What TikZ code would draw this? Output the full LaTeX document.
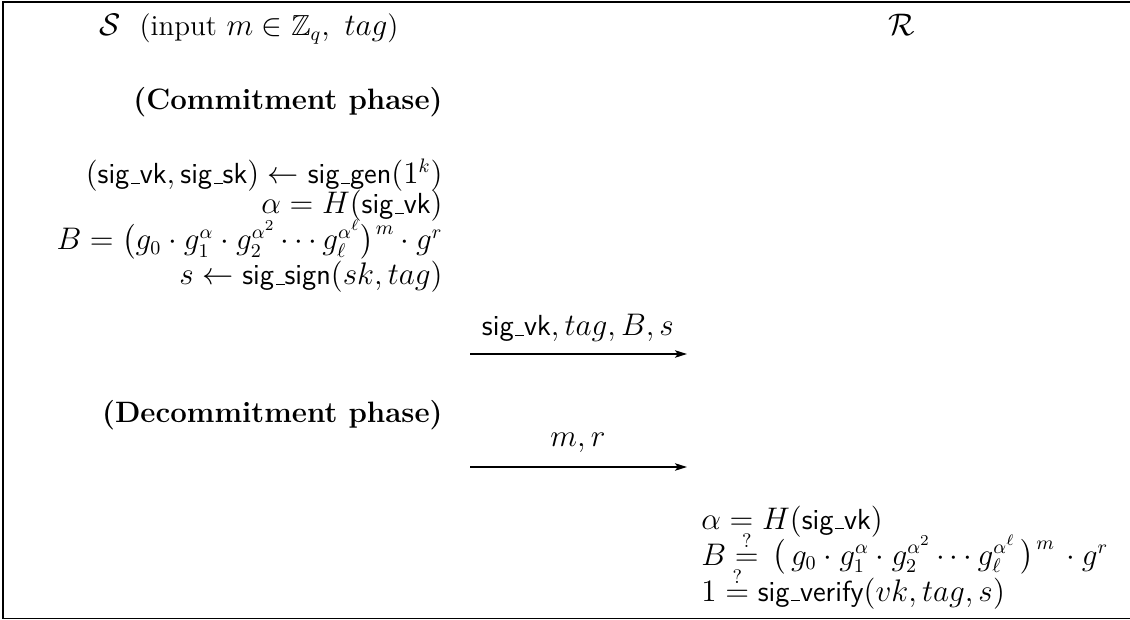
\documentclass[tikz,border=0pt]{standalone}
\usepackage{amssymb}
\usetikzlibrary{arrows.meta}
\newcommand\usc{\kern.06em\vbox{\hrule width.3em height .5pt}}
\newcommand\sig[1]{\textsf{sig\usc #1}}
\newcommand\lpar{\mathopen{\hbox{$\nulldelimiterspace0pt\left(\vcenter to16pt{}\right.$}}}
\newcommand\rparm{\mathclose{\hbox{$\nulldelimiterspace0pt\left.\vcenter to16pt{}\right)$}\kern1pt\raise7pt\hbox{$\scriptstyle m$}}}
\begin{document}
\begin{tikzpicture}[x=0.4615pt,y=-0.4615pt,
  txt/.style={inner sep=0pt,font=\fontsize{13.4}{20}\selectfont},
  phase/.style={inner sep=0pt,font=\fontsize{13.6}{20}\selectfont\bfseries},
  msg/.style={line width=0.85pt,-{Stealth[length=5.5pt,width=3.4pt,inset=1.2pt]}},
  frame/.style={line width=0.9pt}]
\useasboundingbox (0,0) rectangle (1130,620);
% frame (right side runs off the page)
\draw[frame] (1140,2) -- (3,2) -- (3,618.5) -- (1140,618.5);
% headers
\node[txt,anchor=base] (hdrS) at (249,36) {$\mathcal{S}$\ \ (input $m\in\mathbb{Z}_q,\ tag$)};
\node[txt,anchor=base] (hdrR) at (902,36) {$\mathcal{R}$};
% commitment phase
\node[phase,anchor=base east] (commit) at (443,110) {(Commitment phase)};
\node[txt,anchor=base east] (l1) at (443,184) {$(\sig{vk},\sig{sk})\leftarrow\sig{gen}(1^k)$};
\node[txt,anchor=base east] (l2) at (443,214) {$\alpha=H(\sig{vk})$};
\node[txt,anchor=base east] (l3) at (443,250) {$B=\lpar g_0\cdot g_1^{\alpha}\cdot g_2^{\alpha^2}\cdots g_\ell^{\alpha^\ell}\rparm\cdot g^r$};
\node[txt,anchor=base east] (l4) at (443,285) {$s\leftarrow\sig{sign}(sk,tag)$};
\coordinate (a1s) at (470,354);
\coordinate (a1e) at (687,354);
\draw[msg] (a1s) -- (a1e);
\node[txt,anchor=base] (m1) at (578,336) {$\sig{vk},tag,B,s$};
% decommitment phase
\node[phase,anchor=base east] (decommit) at (443,422) {(Decommitment phase)};
\coordinate (a2s) at (470,467);
\coordinate (a2e) at (687,467);
\draw[msg] (a2s) -- (a2e);
\node[txt,anchor=base] (m2) at (578,447) {$m,r$};
% receiver checks
\node[txt,anchor=base west] (r1) at (701,529) {$\alpha=H(\sig{vk})$};
\node[txt,anchor=base west] (r2) at (701,565) {$B\stackrel{?}{=}\,\lpar\,g_0\cdot g_1^{\alpha}\cdot g_2^{\alpha^2}\cdots g_\ell^{\alpha^\ell}\,\rparm\,\cdot g^r$};
\node[txt,anchor=base west] (r3) at (701,601) {$1\stackrel{?}{=}\sig{verify}(vk,tag,s)$};
\end{tikzpicture}
\end{document}
